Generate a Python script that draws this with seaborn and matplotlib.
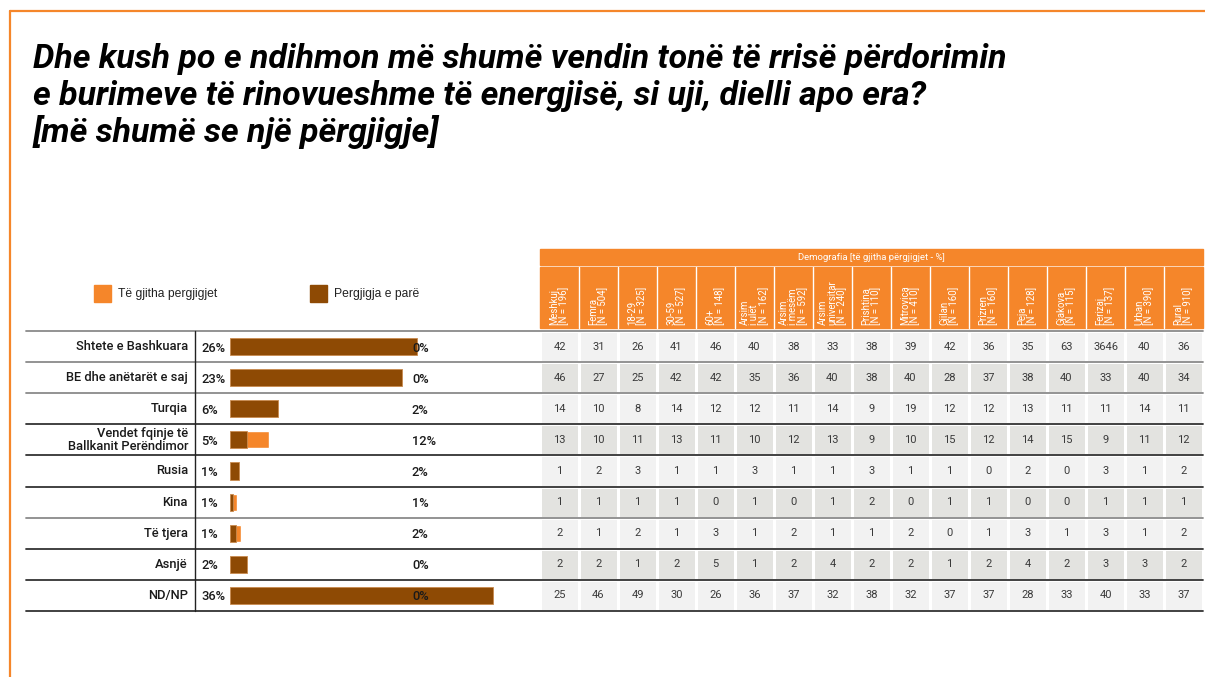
import numpy as np
import pandas as pd
import matplotlib
matplotlib.use("Agg")
import matplotlib.pyplot as plt
from matplotlib.colors import ListedColormap
from matplotlib.patches import Rectangle
from matplotlib.lines import Line2D
from matplotlib.transforms import blended_transform_factory
import seaborn as sns

# ---------------- data ----------------
title_lines = [
    "Dhe kush po e ndihmon më shumë vendin tonë të rrisë përdorimin",
    "e burimeve të rinovueshme të energjisë, si uji, dielli apo era?",
    "[më shumë se një përgjigje]",
]
categories = ["Shtete e Bashkuara", "BE dhe anëtarët e saj", "Turqia",
              "Vendet fqinje të\nBallkanit Perëndimor", "Rusia", "Kina",
              "Të tjera", "Asnjë", "ND/NP"]
first_pct_labels = ["26%", "23%", "6%", "5%", "1%", "1%", "1%", "2%", "36%"]
all_pct_labels = ["0%", "0%", "2%", "12%", "2%", "1%", "2%", "0%", "0%"]
bar_first = [25.6, 23.6, 6.6, 2.3, 1.2, 0.4, 0.8, 2.3, 36.0]
bar_all_extra = [0.0, 0.0, 0.0, 3.0, 0.0, 0.6, 0.7, 0.0, 0.0]
legend_labels = ["Të gjitha pergjigjet", "Pergjigja e parë"]

demo_title = "Demografia [të gjitha përgjigjet - %]"
demo_columns = ["Meshkuj\n[N = 196]", "Femra\n[N = 504]", "18-29\n[N = 325]",
                "30-59\n[N = 527]", "60+\n[N = 148]", "Arsim\ni ulët\n[N = 162]",
                "Arsim\ni mesëm\n[N = 592]", "Arsim\nuniversitar\n[N = 240]",
                "Prishtina\n[N = 110]", "Mitrovica\n[N = 410]", "Gjilan\n[N = 160]",
                "Prizren\n[N = 160]", "Peja\n[N = 128]", "Gjakova\n[N = 115]",
                "Ferizaj\n[N = 137]", "Urban\n[N = 390]", "Rural\n[N = 910]"]
row_shtete = ["42", "31", "26", "41", "46", "40", "38", "33", "38", "39", "42", "36", "35", "63", "3646", "40", "36"]
row_be     = ["46", "27", "25", "42", "42", "35", "36", "40", "38", "40", "28", "37", "38", "40", "33", "40", "34"]
row_turqia = ["14", "10", "8", "14", "12", "12", "11", "14", "9", "19", "12", "12", "13", "11", "11", "14", "11"]
row_vendet = ["13", "10", "11", "13", "11", "10", "12", "13", "9", "10", "15", "12", "14", "15", "9", "11", "12"]
row_rusia  = ["1", "2", "3", "1", "1", "3", "1", "1", "3", "1", "1", "0", "2", "0", "3", "1", "2"]
row_kina   = ["1", "1", "1", "1", "0", "1", "0", "1", "2", "0", "1", "1", "0", "0", "1", "1", "1"]
row_tjera  = ["2", "1", "2", "1", "3", "1", "2", "1", "1", "2", "0", "1", "3", "1", "3", "1", "2"]
row_asnje  = ["2", "2", "1", "2", "5", "1", "2", "4", "2", "2", "1", "2", "4", "2", "3", "3", "2"]
row_ndnp   = ["25", "46", "49", "30", "26", "36", "37", "32", "38", "32", "37", "37", "28", "33", "40", "33", "37"]
table_rows = [row_shtete, row_be, row_turqia, row_vendet, row_rusia,
              row_kina, row_tjera, row_asnje, row_ndnp]

# ---------------- style ----------------
ORANGE = "#F5862A"
BROWN = "#8E4A04"
W, H = 1205, 677
sns.set_theme(style="white")
plt.rcParams["font.family"] = ["Roboto", "DejaVu Sans"]

fig = plt.figure(figsize=(W / 100, H / 100), dpi=100)
fig.patch.set_facecolor("white")


def fx(px):
    return px / W


def fy(py):
    return 1 - py / H


# frame
fig.add_artist(Line2D([fx(10), fx(1205)], [fy(11), fy(11)], color=ORANGE, lw=1.6))
fig.add_artist(Line2D([fx(10), fx(10)], [fy(11), fy(677)], color=ORANGE, lw=1.6))

# title
for line, base in zip(title_lines, [68, 105, 142]):
    fig.text(fx(33), fy(base), line, fontsize=24.4, fontweight="bold", fontstyle="italic",
             color="black", va="baseline", ha="left")

# legend
for i, (lab, col) in enumerate(zip(legend_labels, [ORANGE, BROWN])):
    x0 = [94, 310][i]
    fig.add_artist(Rectangle((fx(x0), fy(302)), fx(17), 17 / H, color=col,
                             transform=fig.transFigure))
    fig.text(fx(x0 + 24), fy(293.5), lab, fontsize=8.7, family="Liberation Sans",
             color="#222222", va="center", ha="left")

TOP, BOT = 331, 611
NR = len(categories)
rh = (BOT - TOP) / NR

# ---------------- bars ----------------
ax_b = fig.add_axes([fx(230), fy(BOT), fx(270), (BOT - TOP) / H])
df = pd.DataFrame({"cat": categories,
                   "first": bar_first,
                   "total": np.array(bar_first) + np.array(bar_all_extra)})
sns.barplot(data=df, y="cat", x="total", orient="h", color=ORANGE, width=0.55,
            saturation=1, ax=ax_b)
sns.barplot(data=df, y="cat", x="first", orient="h", color=BROWN, width=0.55,
            saturation=1, ax=ax_b, edgecolor="#C98A4E", linewidth=0.6)
ax_b.set_xlim(0, 270 / 7.3)
ax_b.set_ylim(NR - 0.5, -0.5)
ax_b.axis("off")

tr = blended_transform_factory(fig.transFigure, ax_b.transData)
for i in range(NR):
    ax_b.text(fx(188), i, categories[i], transform=tr, ha="right", va="center",
              fontsize=9.3, fontweight="medium", color="#1a1a1a", linespacing=1.0)
    ax_b.text(fx(201), i + 0.05, first_pct_labels[i], transform=tr, ha="left", va="center",
              fontsize=9.3, fontweight="medium", color="#1a1a1a")
    ax_b.text(fx(412), i + 0.05, all_pct_labels[i], transform=tr, ha="left", va="center",
              fontsize=9.3, fontweight="medium", color="#1a1a1a")

# ---------------- table ----------------
L, R = 540, 1203
ax_t = fig.add_axes([fx(L), fy(BOT), fx(R - L), (BOT - TOP) / H])
parity = np.array([[i % 2] * len(demo_columns) for i in range(NR)])
annot = np.array(table_rows)
sns.heatmap(parity, cmap=ListedColormap(["#F2F2F2", "#E3E3E0"]), annot=annot, fmt="",
            cbar=False, linewidths=1.0, linecolor="white", ax=ax_t,
            annot_kws={"fontsize": 8, "color": "#3a3a3a"})
ax_t.set_xticks([])
ax_t.set_yticks([])

# header
fig.add_artist(Rectangle((fx(L), fy(265)), fx(R - L), 16 / H, color=ORANGE,
                         transform=fig.transFigure, zorder=1))
fig.text(fx((L + R) / 2), fy(257.5), demo_title, fontsize=6.8, color="white",
         ha="center", va="center")
fig.add_artist(Rectangle((fx(L), fy(328)), fx(R - L), 61 / H, color=ORANGE,
                         transform=fig.transFigure, zorder=1))
cw = (R - L) / len(demo_columns)
for j in range(1, len(demo_columns)):
    xs = L + j * cw
    fig.add_artist(Line2D([fx(xs), fx(xs)], [fy(267), fy(328)], color="white", lw=1.0, zorder=2))
for j, lab in enumerate(demo_columns):
    fig.text(fx(L + (j + 0.5) * cw), fy(325), lab, rotation=90, fontsize=6.9, color="white",
             ha="center", va="bottom", multialignment="left", linespacing=0.9, zorder=3)

# horizontal rules
rule_colors = ["#8a8a8a", "#8a8a8a", "#8a8a8a", "#333333", "#333333",
               "#333333", "#8a8a8a", "#333333", "#333333", "#333333"]
for i in range(NR + 1):
    yy = TOP + i * rh
    fig.add_artist(Line2D([fx(26), fx(1203)], [fy(yy), fy(yy)], color=rule_colors[i],
                          lw=1.3, zorder=5))
fig.add_artist(Line2D([fx(195), fx(195)], [fy(TOP), fy(BOT)], color="#222222", lw=1.0, zorder=5))

fig.savefig("out.png", dpi=100, facecolor="white")
